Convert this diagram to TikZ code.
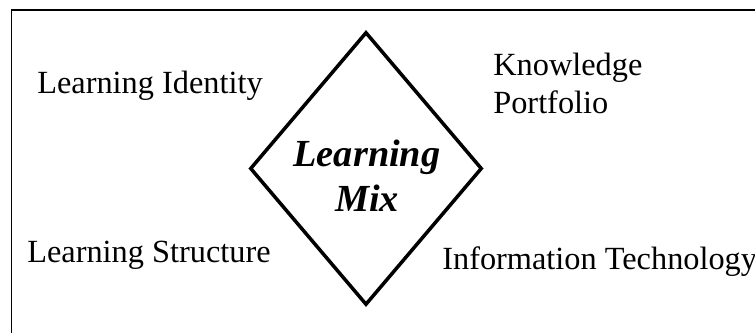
\documentclass[tikz,border=0pt]{standalone}
\usepackage{fontspec}
\setmainfont{Liberation Serif}
\usetikzlibrary{positioning,shapes.geometric}

\begin{document}
\begin{tikzpicture}[x=0.02cm,y=-0.02cm]
	\tikzstyle{item} = [inner sep=0pt, anchor=base west, align=left, font=\fontsize{18.4}{21.6}\selectfont]
	\tikzstyle{mixbox} = [draw, diamond, line width=2pt, inner sep=0pt, minimum width=4.64cm, minimum height=5.46cm]
	
	\useasboundingbox (0,0) rectangle (755,332);
	\clip (0,0) rectangle (755,332);
	\coordinate (frametl) at (11.5,10);
	\coordinate (framebr) at (800,400);
	\draw [line width=0.85pt] (frametl) rectangle (framebr);
	
	\node [mixbox] (mix) at (366,168.5) {};
	\node [inner sep=0pt, align=center, font=\fontsize{21.8}{25.6}\selectfont\bfseries\itshape] (mixtext) at (367,176) {Learning\\Mix};
	
	\node [item] (identity) at (37,93) {Learning Identity};
	\node [item] (knowledge) at (493,113) {Knowledge\\Portfolio};
	\node [item] (structure) at (27,262) {Learning Structure};
	\node [item] (infotech) at (442,269) {Information Technology};
	
\end{tikzpicture}
\end{document}
